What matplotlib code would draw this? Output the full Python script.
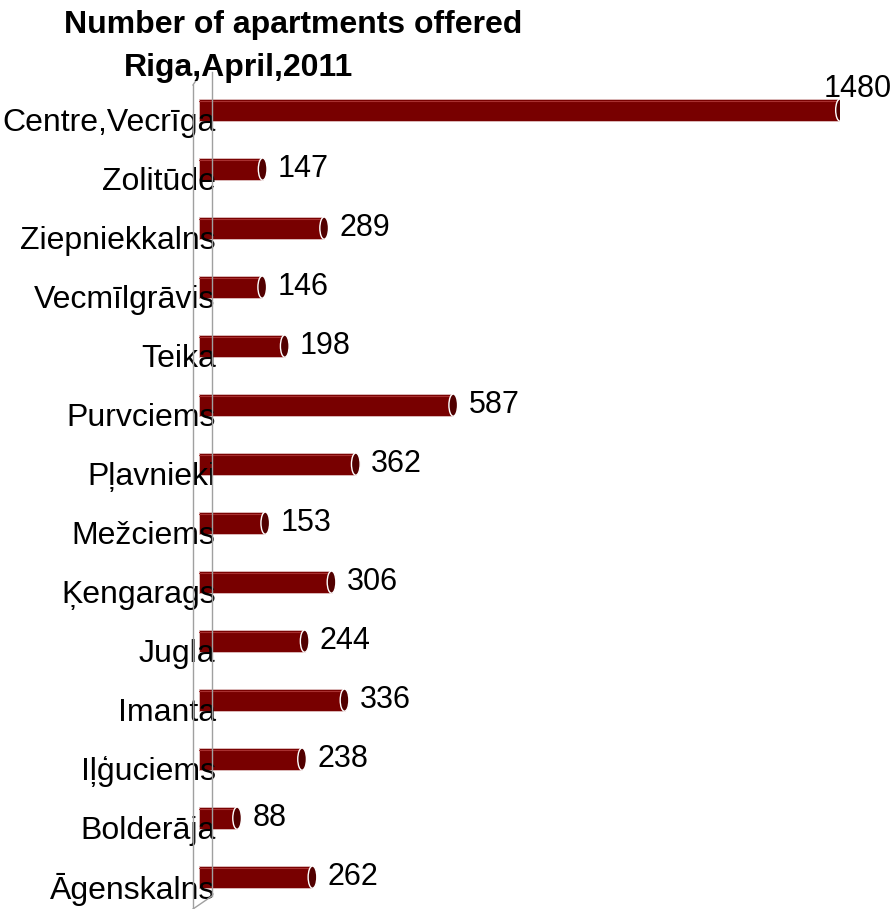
import matplotlib.pyplot as plt
from matplotlib.lines import Line2D
from matplotlib.patches import Ellipse

plt.rcParams["font.family"] = ["Liberation Sans", "DejaVu Sans"]

# Apartments on offer per district, top to bottom
districts = [
    "Centre,Vecrīga",
    "Zolitūde",
    "Ziepniekkalns",
    "Vecmīlgrāvis",
    "Teika",
    "Purvciems",
    "Pļavnieki",
    "Mežciems",
    "Ķengarags",
    "Jugla",
    "Imanta",
    "Iļģuciems",
    "Bolderāja",
    "Āgenskalns",
]
offers = [1480, 147, 289, 146, 198, 587, 362, 153, 306, 244, 336, 238, 88, 262]

W, H = 894, 909
BODY = "#780000"
CAP = "#520000"


def fx(x):
    return x / W


def fy(y):
    return 1 - y / H


fig = plt.figure(figsize=(W / 100, H / 100), dpi=100)
ax = fig.add_axes([fx(199), 0, (840 - 199) / W, (H - 80) / H])
ax.set_xlim(0, 1480)
ax.set_ylim(13.54, -0.51)
ax.axis("off")

# wall / floor outline of the pseudo-3D frame
frame = [
    ((193, 193), (85, 909)),
    ((193, 197), (85, 79)),
    ((212, 212), (72, 896)),
    ((193, 212), (909, 896)),
]
for xs, ys in frame:
    fig.add_artist(Line2D([fx(x) for x in xs], [fy(y) for y in ys],
                          transform=fig.transFigure, color="#a0a0a0", lw=1.0))

bar_h = 0.375
cap_w = 20
for i, (name, val) in enumerate(zip(districts, offers)):
    ax.barh(i, val, height=bar_h, color=BODY, edgecolor="#e0c0c0", linewidth=0.6, zorder=3)
    ax.plot([0, val], [i - bar_h / 2 + 0.04] * 2, color="#a83030", lw=0.8, zorder=4)
    ax.add_patch(Ellipse((val, i), cap_w, bar_h, facecolor=CAP,
                         edgecolor="white", linewidth=1.0, zorder=5))

    ax.annotate(name, xy=(0, i), xytext=(12, -9), textcoords="offset points",
                ha="right", va="center", fontsize=23, color="black", zorder=6,
                annotation_clip=False)

    if i == 0:
        ax.annotate(f"{val}", xy=(val, i), xytext=(-12, 15), textcoords="offset points",
                    ha="left", va="center", fontsize=22, annotation_clip=False)
    else:
        ax.annotate(f"{val}", xy=(val, i), xytext=(11, 0), textcoords="offset points",
                    ha="left", va="center", fontsize=22, annotation_clip=False)

fig.text(fx(293), fy(25), "Number of apartments offered", ha="center", va="center",
         fontsize=23, fontweight="bold")
fig.text(fx(238), fy(68), "Riga,April,2011", ha="center", va="center",
         fontsize=23, fontweight="bold")

fig.savefig("out.png", dpi=100)
